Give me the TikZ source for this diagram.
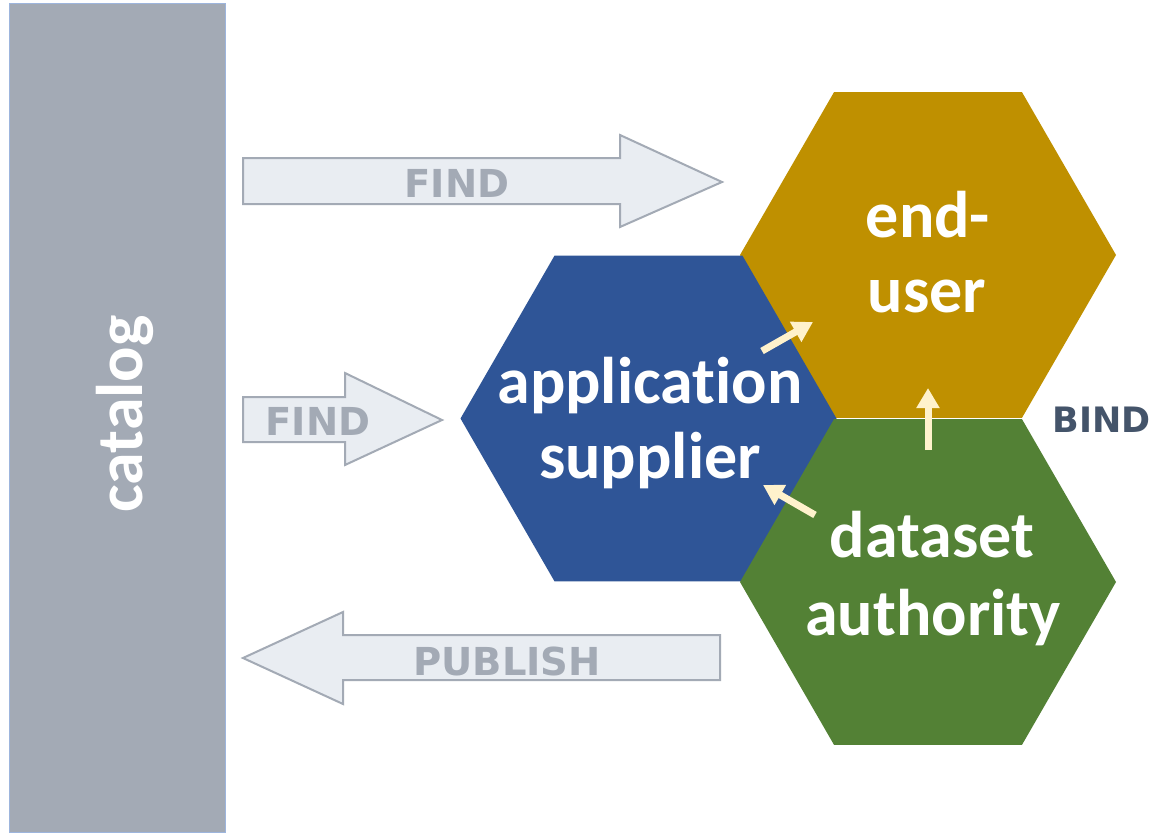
\documentclass[tikz,border=0pt]{standalone}
\usepackage{fontspec}
\setmainfont{Carlito}[Ligatures=NoCommon]
\newfontfamily\tagfont{DejaVu Sans}
\usetikzlibrary{arrows.meta,shapes.geometric}

\definecolor{catfill}{HTML}{A3AAB5}
\definecolor{catedge}{HTML}{9DB5DD}
\definecolor{flowfill}{HTML}{E9EDF2}
\definecolor{flowedge}{HTML}{A3AAB5}
\definecolor{enduser}{HTML}{BF9000}
\definecolor{appsupp}{HTML}{2F5597}
\definecolor{dataauth}{HTML}{538135}
\definecolor{bindtext}{HTML}{44546A}
\definecolor{cream}{HTML}{FFF2CC}

\tikzset{
  hexcell/.style={regular polygon, regular polygon sides=6, minimum size=376bp,
    inner sep=0pt, outer sep=0pt, draw=none},
  rolename/.style={text=white, inner sep=0pt, anchor=base,
    font=\bfseries\fontsize{66bp}{76bp}\selectfont},
  flowarrow/.style={fill=flowfill, draw=flowedge, line width=2bp, line join=miter},
  flowname/.style={text=flowedge, inner sep=0pt, anchor=base,
    font=\tagfont\bfseries\fontsize{38.5bp}{46bp}\selectfont},
  bindarrow/.style={draw=cream, line width=7bp,
    -{Triangle[length=20bp,width=22bp]}}
}

\begin{document}
\begin{tikzpicture}[x=1bp,y=-1bp]
\useasboundingbox (0,0) rectangle (1158,834);
\fill[white] (0,0) rectangle (1158,834);

% catalog column
\node (catalog) [rectangle, fill=catfill, draw=catedge, line width=1bp,
  minimum width=215bp, minimum height=828bp, inner sep=0pt] at (117.5,418) {};
\node (catalogname) [rolename, rotate=90] at (142,414) {catalog};

% flow arrows
\draw[flowarrow] (243,158) -- (620,158) -- (620,135) -- (722,182)
  -- (620,227) -- (620,204) -- (243,204) -- cycle;
\node (find1) [flowname] at (457,197) {FIND};

\draw[flowarrow] (243,397) -- (345,397) -- (345,373) -- (442,420)
  -- (345,465) -- (345,442) -- (243,442) -- cycle;
\node (find2) [flowname] at (318,435) {FIND};

\draw[flowarrow] (720,635) -- (343,635) -- (343,612) -- (243,658)
  -- (343,704) -- (343,680) -- (720,680) -- cycle;
\node (publish) [flowname] at (507,675) {PUBLISH};

% role cells
\node (eu) [hexcell, fill=enduser] at (928,255) {};
\node (as) [hexcell, fill=appsupp] at (648.5,418.5) {};
\node (da) [hexcell, fill=dataauth] at (928,582) {};

\node (eu1) [rolename] at (928,237) {end-};
\node (eu2) [rolename] at (927,312) {user};
\node (as1) [rolename] at (650,403) {application};
\node (as2) [rolename] at (650,478) {supplier};
\node (da1) [rolename] at (932,557) {dataset};
\node (da2) [rolename] at (933,635) {authority};

\node (bind) [text=bindtext, inner sep=0pt, anchor=base,
  font=\tagfont\bfseries\fontsize{35bp}{42bp}\selectfont] at (1102,432) {BIND};

% bind arrows
\coordinate (b1s) at (762,351);
\coordinate (b1e) at (813,322);
\coordinate (b2s) at (928,450);
\coordinate (b2e) at (928,388);
\coordinate (b3s) at (815,515);
\coordinate (b3e) at (763,485);
\draw[bindarrow] (b1s) -- (b1e);
\draw[bindarrow] (b2s) -- (b2e);
\draw[bindarrow] (b3s) -- (b3e);
\end{tikzpicture}
\end{document}
